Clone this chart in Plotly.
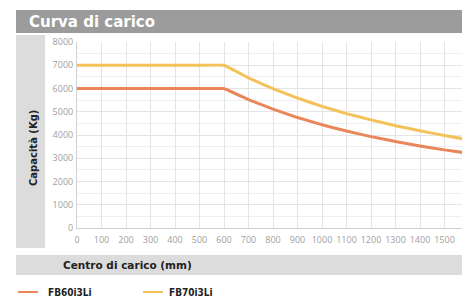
import plotly.graph_objects as go

centro = [0, 100, 200, 300, 400, 500, 600, 700, 800, 900, 1000, 1100, 1200, 1300, 1400, 1500, 1600]
fb60 = [6000, 6000, 6000, 6000, 6000, 6000, 6000, 5520, 5110, 4750, 4440, 4170, 3930, 3720, 3530, 3360, 3210]
fb70 = [7000, 7000, 7000, 7000, 7000, 7000, 7000, 6460, 5990, 5590, 5230, 4920, 4650, 4400, 4180, 3980, 3790]
names = ["FB60i3Li", "FB70i3Li"]
colors = ["#E9875B", "#F4C25A"]
xticks = list(range(0, 1700, 100))
yticks = list(range(0, 9000, 1000))

fig = go.Figure()
for name, vals, col in zip(names, [fb60, fb70], colors):
    fig.add_trace(go.Scatter(x=centro, y=vals, mode="lines", name=name,
                             line=dict(color=col, width=3, shape="spline", smoothing=0.15),
                             showlegend=False))

# page has an 8px body margin: figure occupies (8..470, 8..301) of the screenshot
OFF = 8
W, H = 470 - OFF, 301 - OFF
L, R, T, B = 77 - OFF, 0, 42 - OFF, 301 - 228


def to_paper_x(xp):
    return (xp - OFF - L) / (W - L - R)


def to_paper_y(yp):
    return (H - B - (yp - OFF)) / (H - T - B)


shapes = [
    # title bar
    dict(type="rect", xref="paper", yref="paper", x0=to_paper_x(16), x1=1.0,
         y0=to_paper_y(33), y1=to_paper_y(10),
         fillcolor="#9B9B9B", line_width=0, layer="below"),
    # left strip
    dict(type="rect", xref="paper", yref="paper", x0=to_paper_x(16), x1=to_paper_x(45),
         y0=to_paper_y(248), y1=to_paper_y(35),
         fillcolor="#DCDCDC", line_width=0, layer="below"),
    # bottom band
    dict(type="rect", xref="paper", yref="paper", x0=to_paper_x(16), x1=1.0,
         y0=to_paper_y(275), y1=to_paper_y(255),
         fillcolor="#DCDCDC", line_width=0, layer="below"),
]

# legend lines
for (x0, x1), col in zip([(18, 38), (143, 163)], colors):
    shapes.append(dict(type="line", xref="paper", yref="paper", x0=to_paper_x(x0), x1=to_paper_x(x1),
                       y0=to_paper_y(292), y1=to_paper_y(292), line=dict(color=col, width=2)))

annotations = [
    dict(text="Curva di carico", xref="paper", yref="paper", x=to_paper_x(27), y=to_paper_y(21.5),
         xanchor="left", yanchor="middle", showarrow=False,
         font=dict(family="DejaVu Sans", size=15, color="white", weight="bold")),
    dict(text="Capacità (Kg)", xref="paper", yref="paper", x=to_paper_x(33), y=to_paper_y(148),
         xanchor="center", yanchor="middle", showarrow=False, textangle=-90,
         font=dict(family="DejaVu Sans", size=10, color="#222", weight="bold")),
    dict(text="Centro di carico (mm)", xref="paper", yref="paper", x=to_paper_x(127), y=to_paper_y(265),
         xanchor="center", yanchor="middle", showarrow=False,
         font=dict(family="DejaVu Sans", size=10.5, color="#222", weight="bold")),
]
for xp, name in zip([46, 167], names):
    annotations.append(dict(text=name, xref="paper", yref="paper", x=to_paper_x(xp), y=to_paper_y(292),
                            xanchor="left", yanchor="middle", showarrow=False,
                            font=dict(family="DejaVu Sans Condensed", size=10, color="#222", weight="bold")))

fig.update_layout(
    width=W, height=H,
    margin=dict(l=L, r=R, t=T, b=B),
    paper_bgcolor="white", plot_bgcolor="white",
    shapes=shapes, annotations=annotations,
    xaxis=dict(range=[0, 1604], tickvals=xticks, ticktext=[str(v) for v in xticks],
               showgrid=True, gridcolor="#E4E4E4", gridwidth=1,
               zeroline=False, showline=True, linecolor="#D0D0D0",
               tickfont=dict(family="Open Sans", size=9, color="#A0A0A0"),
               ticks="", ticklabelstandoff=3),
    yaxis=dict(range=[0, 8000], tickvals=yticks, ticktext=[str(v) for v in yticks],
               showgrid=True, gridcolor="#E4E4E4", gridwidth=1,
               minor=dict(dtick=500, showgrid=True, gridcolor="#F0F0F0"),
               zeroline=False, showline=True, linecolor="#D0D0D0",
               tickfont=dict(family="Open Sans", size=9, color="#A0A0A0"),
               ticks="", ticklabelstandoff=1),
)

fig.write_html("out.html")
